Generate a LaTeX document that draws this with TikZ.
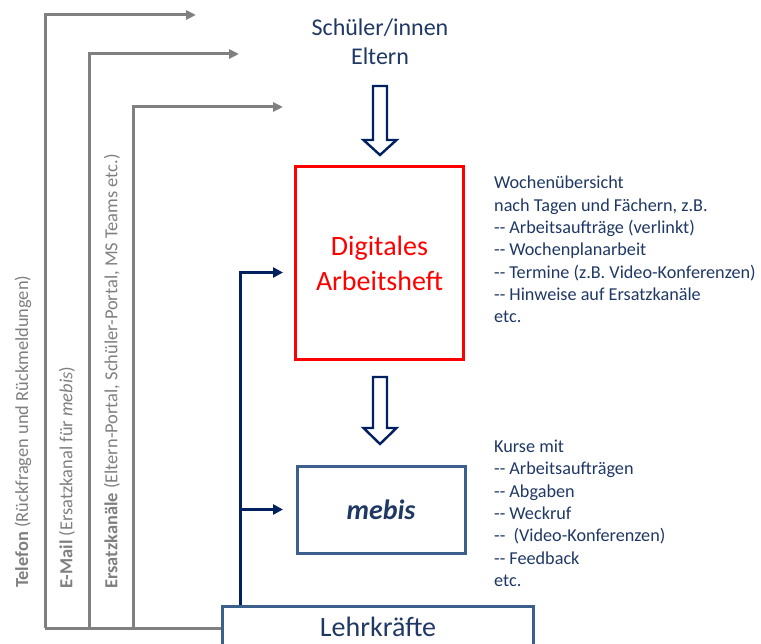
\documentclass[tikz,border=0pt]{standalone}
\usepackage{fontspec}
\setmainfont{Carlito}
\usetikzlibrary{arrows.meta}
\definecolor{navytext}{RGB}{31,56,100}
\definecolor{navyline}{RGB}{0,32,96}
\definecolor{boxblue}{RGB}{60,96,142}
\definecolor{graytext}{RGB}{127,127,127}
\definecolor{grayline}{RGB}{128,128,128}
\definecolor{redbox}{RGB}{255,0,0}
\newcommand{\dd}{-{}-}
\tikzset{
  grayln/.style={draw=grayline, line width=3pt, line join=miter},
  grayarr/.style={grayln, -{Triangle[length=10pt,width=9pt]}},
  navyarr/.style={draw=navyline, line width=3pt, line join=miter, -{Triangle[length=10pt,width=10pt]}},
  hollowln/.style={draw=navyline, line width=2.4pt, fill=white, line join=miter},
  graylabel/.style={rotate=90, anchor=west, inner sep=0pt, text=graytext, font=\fontsize{18.4}{22}\selectfont},
  bigtext/.style={text=navytext, font=\fontsize{24}{29}\selectfont, inner sep=0pt},
  infoline/.style={anchor=base west, inner sep=0pt, text=navytext, font=\fontsize{18.2}{22}\selectfont},
  bluebox/.style={draw=boxblue, line width=3pt, inner sep=0pt}
}
\begin{document}
\begin{tikzpicture}[x=1pt,y=-1pt]
\useasboundingbox (0,0) rectangle (761,644);

% top labels
\node[bigtext, anchor=base] (schueler) at (380,36) {Schüler/innen};
\node[bigtext, anchor=base] (eltern) at (380,65) {Eltern};

% boxes
\node[draw=redbox, line width=3pt, minimum width=168pt, minimum height=193pt, inner sep=0pt,
      align=center, text=redbox, font=\fontsize{28}{35}\selectfont] (dah) at (379.5,263.5) {Digitales\\Arbeitsheft};
\node[bluebox, minimum width=168pt, minimum height=87pt, text=navytext,
      font=\fontsize{28}{34}\selectfont\bfseries\itshape] (mebis) at (381,509.5) {mebis};
\node[bluebox, minimum width=310.6pt, minimum height=70pt, anchor=north] (lehr) at (378,605) {};
\node[anchor=base, inner sep=0pt, text=navytext, font=\fontsize{28}{34}\selectfont] (lehrtext) at (378,636) {Lehrkräfte};

% hollow arrows
\draw[hollowln] (373,86) -- (387,86) -- (387,140) -- (396.5,140) -- (380,155) -- (363.5,140) -- (373,140) -- cycle;
\draw[hollowln] (373,377) -- (387,377) -- (387,428) -- (396.5,428) -- (380,444) -- (363.5,428) -- (373,428) -- cycle;

% navy connectors
\coordinate (trunk) at (240.5,605);
\coordinate (tA) at (283,272.5);
\coordinate (tB) at (283,509.5);
\draw[navyarr] (trunk) |- (tA);
\draw[navyarr] (trunk |- tB) -- (tB);

% gray channels
\coordinate (g1) at (45,628);
\coordinate (g2) at (89,628);
\coordinate (g3) at (133,628);
\coordinate (e1) at (196,15);
\coordinate (e2) at (239,54);
\coordinate (e3) at (283,107);
\draw[grayln] (g1) -- (g1 -| lehr.west);
\draw[grayarr] (g1) |- (e1);
\draw[grayarr] (g2) |- (e2);
\draw[grayarr] (g3) |- (e3);

\node[graylabel] (tel) at (23,588) {\textbf{Telefon} (Rückfragen und Rückmeldungen)};
\node[graylabel] (mail) at (67,589) {\textbf{E-Mail} (Ersatzkanal für \textit{mebis})};
\node[graylabel] (ersatz) at (112,589) {\textbf{Ersatzkanäle} (Eltern-Portal, Schüler-Portal, MS Teams etc.)};

% info texts
\node[infoline] (w1) at (494,189) {Wochenübersicht};
\node[infoline] (w2) at (494,211.3) {nach Tagen und Fächern, z.B.};
\node[infoline] (w3) at (494,233.6) {\dd{} Arbeitsaufträge (verlinkt)};
\node[infoline] (w4) at (494,255.9) {\dd{} Wochenplanarbeit};
\node[infoline] (w5) at (494,278.2) {\dd{} Termine (z.B. Video-Konferenzen)};
\node[infoline] (w6) at (494,300.5) {\dd{} Hinweise auf Ersatzkanäle};
\node[infoline] (w7) at (494,322.8) {etc.};

\node[infoline] (k1) at (494,452.7) {Kurse mit};
\node[infoline] (k2) at (494,475) {\dd{} Arbeitsaufträgen};
\node[infoline] (k3) at (494,497.3) {\dd{} Abgaben};
\node[infoline] (k4) at (494,519.6) {\dd{} Weckruf};
\node[infoline] (k5) at (494,541.9) {\dd\ \ (Video-Konferenzen)};
\node[infoline] (k6) at (494,564.2) {\dd{} Feedback};
\node[infoline] (k7) at (494,586.5) {etc.};
\end{tikzpicture}
\end{document}
